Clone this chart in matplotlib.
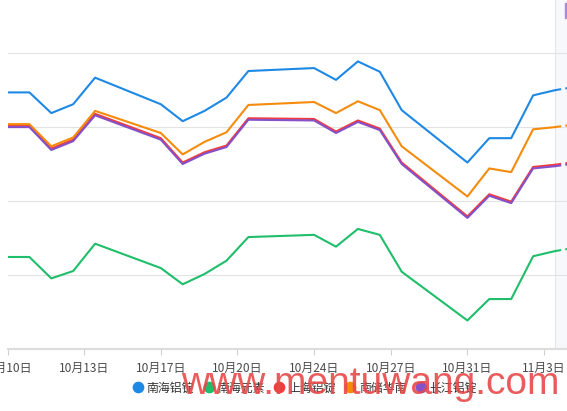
import numpy as np
import matplotlib
matplotlib.use("Agg")
import matplotlib.pyplot as plt
from matplotlib.patches import Rectangle

plt.rcParams['font.family'] = ['Noto Sans CJK SC', 'DejaVu Sans']

# day index of each quote (gaps = days without quotes), last point is the forecast
day_idx = [0, 1, 2, 3, 4, 7, 8, 9, 10, 11, 14, 15, 16, 17, 18, 21, 22, 23, 24, 25]
next_idx = 26

nanhai_ingot = [20947, 20947, 20919, 20931, 20967, 20931, 20908, 20922, 20940, 20976,
                20980, 20964, 20989, 20975, 20923, 20852, 20885, 20885, 20943, 20950]
nanhai_yuan = [20724, 20724, 20695, 20705, 20742, 20709, 20687, 20701, 20719, 20751,
               20754, 20738, 20762, 20754, 20704, 20638, 20667, 20667, 20725, 20732]
shanghai_ingot = [20902, 20902, 20871, 20883, 20918, 20885, 20852, 20866, 20875, 20912,
                  20911, 20894, 20909, 20898, 20852, 20779, 20809, 20799, 20846, 20849]
nanchu_huanan = [20904, 20904, 20874, 20886, 20922, 20892, 20863, 20880, 20893, 20930,
                 20934, 20919, 20935, 20923, 20874, 20806, 20844, 20839, 20897, 20900]
changjiang_ingot = [20900, 20900, 20869, 20881, 20916, 20883, 20850, 20864, 20873, 20910,
                    20909, 20892, 20907, 20896, 20850, 20777, 20807, 20797, 20844, 20847]
# forecast values (dashed)
forecast = [20955, 20737, 20853, 20904, 20851]

names = ['南海铝锭', '南海元素', '上海铝锭', '南储华南', '长江铝锭']
colors = ['#1e88e5', '#1ebe6a', '#f23c3c', '#f58b0c', '#8550c8']
series = [nanhai_ingot, nanhai_yuan, shanghai_ingot, nanchu_huanan, changjiang_ingot]

tick_pos = np.arange(8) * 3.5
tick_labels = ['10月10日', '10月13日', '10月17日', '10月20日', '10月24日',
               '10月27日', '10月31日', '11月3日']

fig = plt.figure(figsize=(5.67, 4.11), dpi=100)
ax = fig.add_axes([7.5 / 567, 62.5 / 411, 559.5 / 567, 348.5 / 411])

ax.axvspan(25, 30, color='#f7f8fc', zorder=0, lw=0)
ax.axvline(25, color='#e6e6e6', lw=0.8, zorder=0.5)

for name, vals, c, f in zip(names, series, colors, forecast):
    ax.plot(day_idx, vals, color=c, lw=1.5, label=name, zorder=3)
    ax.plot([day_idx[-1], next_idx], [vals[-1], f], color=c, lw=1.5,
            ls=(0, (3, 2)), zorder=3)

ax.set_xlim(0, 559.5 / 21.9)
ax.set_ylim(20600, 20600 + 348.5 * 100 / 73.8)
ax.set_yticks([20700, 20800, 20900, 21000])
ax.yaxis.grid(True, color='#e3e3e3', lw=0.8)
ax.set_axisbelow(True)
ax.tick_params(axis='y', left=False, labelleft=False)
ax.set_xticks(tick_pos)
ax.set_xticklabels(tick_labels)
ax.tick_params(axis='x', length=4.3, width=0.8, color='#d0d0d0',
               labelsize=8.6, labelcolor='#4a4a4a', pad=5.2)
for s in ['top', 'right', 'left']:
    ax.spines[s].set_visible(False)
ax.spines['bottom'].set_color('#dcdcdc')
ax.spines['bottom'].set_linewidth(1.5)

handles = [plt.Line2D([], [], ls='none', marker='o', markersize=7.4,
                      markerfacecolor=c, markeredgecolor=c) for c in colors]
fig.legend(handles, names, loc='center', bbox_to_anchor=(305 / 567, 1 - 388 / 411),
           ncol=5, frameon=False, fontsize=8.6, handlelength=0.85, handletextpad=0.3,
           columnspacing=0.8, labelcolor='#333333', borderpad=0)

fig.patches.append(Rectangle((565 / 567, 1 - 18 / 411), 3 / 567, 15 / 411,
                             transform=fig.transFigure, color='#a88ad8', zorder=5))

fig.text(370 / 567, 1 - 394 / 411, 'www.mentuwang.com', ha='center', va='baseline',
         fontsize=28, family='Liberation Sans', color='#e84a4a', alpha=0.9, zorder=10)

fig.savefig('out.png', dpi=100)
